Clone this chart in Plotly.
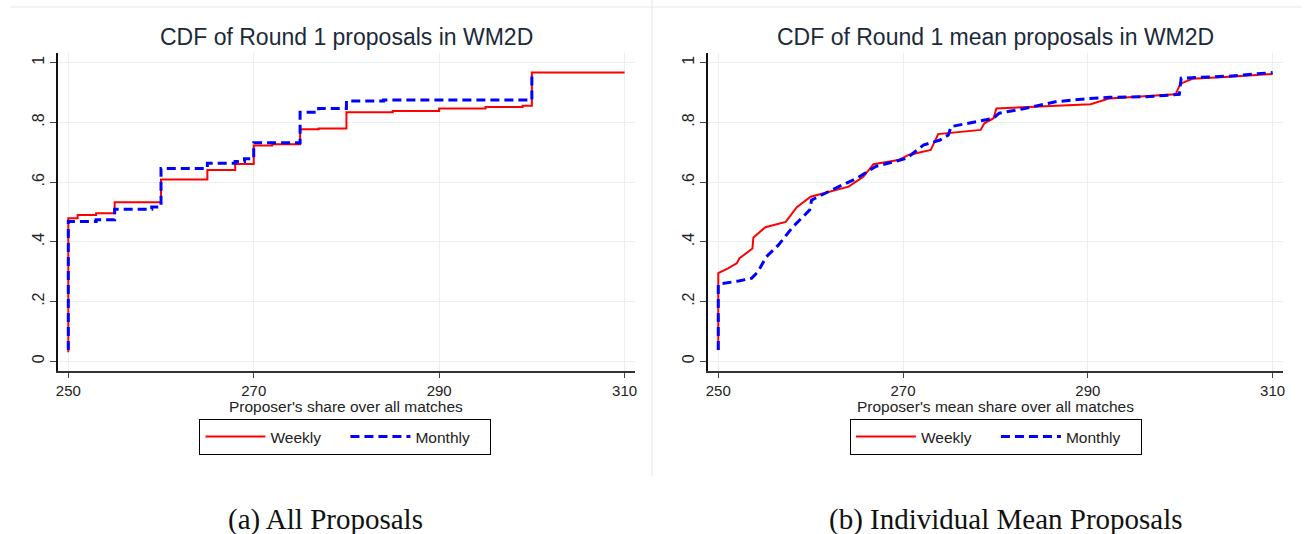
import plotly.graph_objects as go

# ---------------- data ----------------
# Panel (a): CDF of all Round 1 proposals (step points)
a_weekly_x = [250, 250, 251, 253, 255, 260, 265, 268, 270, 272, 275, 277, 280, 285, 290, 295, 299, 300, 310]
a_weekly_y = [0.030, 0.479, 0.490, 0.496, 0.533, 0.609, 0.641, 0.661, 0.723, 0.727, 0.777, 0.780,
              0.834, 0.838, 0.847, 0.852, 0.856, 0.967, 0.967]
a_monthly_x = [250, 250, 253, 255, 259, 260, 265, 268, 269, 270, 275, 277, 280, 284, 300]
a_monthly_y = [0.038, 0.468, 0.474, 0.509, 0.517, 0.646, 0.663, 0.669, 0.678, 0.732, 0.834, 0.847,
               0.872, 0.875, 0.967]

# Panel (b): CDF of individual mean proposals
b_weekly_x = [250, 250, 251.1, 252, 252.3, 253.4, 253.7, 253.8, 255.1, 257.3, 258.5, 260, 262.3, 264.1,
              265.7, 266.8, 269.5, 270.6, 273, 273.8, 278.4, 278.8, 279.8, 280.1, 282.9, 290.3, 292.3,
              299.5, 300, 301.3, 305.3, 310]
b_weekly_y = [0.038, 0.295, 0.312, 0.328, 0.345, 0.373, 0.378, 0.415, 0.449, 0.467, 0.516, 0.551, 0.570,
              0.585, 0.618, 0.660, 0.674, 0.691, 0.708, 0.761, 0.775, 0.797, 0.814, 0.847, 0.851, 0.861,
              0.880, 0.894, 0.929, 0.946, 0.953, 0.962]
b_monthly_x = [250, 250, 252.2, 253.6, 254.3, 255.2, 256.5, 258.1, 259.9, 260.1, 262.3, 265, 267, 270.4,
               272.2, 274, 274.9, 275.2, 279.8, 280.4, 282.9, 286.5, 290.1, 292.3, 296.3, 299.9, 300.1,
               305.3, 310]
b_monthly_y = [0.038, 0.258, 0.269, 0.278, 0.300, 0.350, 0.389, 0.451, 0.507, 0.540, 0.574, 0.613, 0.652,
               0.680, 0.724, 0.741, 0.758, 0.786, 0.814, 0.831, 0.845, 0.869, 0.880, 0.884, 0.886, 0.894,
               0.948, 0.955, 0.967]

x_ticks = [250, 270, 290, 310]
y_ticks = [0, 0.2, 0.4, 0.6, 0.8, 1]
y_tick_labels = ["0", ".2", ".4", ".6", ".8", "1"]

titles = ["CDF of Round 1 proposals in WM2D", "CDF of Round 1 mean proposals in WM2D"]
x_titles = ["Proposer's share over all matches", "Proposer's mean share over all matches"]
captions = ["(a) All Proposals", "(b) Individual Mean Proposals"]
series_names = ["Weekly", "Monthly"]

# ---------------- layout helpers ----------------
W, H = 1304, 534
def px(x):
    return x / W
def py(y):
    return (H - y) / H

RED = "#FF0000"
BLUE = "#0000FF"
SANS = "Liberation Sans, Arial, sans-serif"
TXT = "#222222"

fig = go.Figure()

panels = [
    dict(xa="x", ya="y", legend="legend", wx=a_weekly_x, wy=a_weekly_y, mx=a_monthly_x, my=a_monthly_y, shape="hv"),
    dict(xa="x2", ya="y2", legend="legend2", wx=b_weekly_x, wy=b_weekly_y, mx=b_monthly_x, my=b_monthly_y, shape="linear"),
]
for p in panels:
    fig.add_trace(go.Scatter(x=p["wx"], y=p["wy"], mode="lines", name=series_names[0],
                             line=dict(color=RED, width=2, shape=p["shape"]),
                             xaxis=p["xa"], yaxis=p["ya"], legend=p["legend"]))
    fig.add_trace(go.Scatter(x=p["mx"], y=p["my"], mode="lines", name=series_names[1],
                             line=dict(color=BLUE, width=3, dash="9px,5px", shape=p["shape"]),
                             xaxis=p["xa"], yaxis=p["ya"], legend=p["legend"]))

plot_top, plot_bottom = 53, 371
left_dom = [px(56), px(635)]
right_dom = [px(708), px(1285)]
ydom = [py(plot_bottom), py(plot_top)]

xaxis_common = dict(range=[248.87, 311.13], tickvals=x_ticks, showgrid=True, gridcolor="#E8F0F2",
                    gridwidth=1.2, zeroline=False, showline=True, linecolor="#333333", linewidth=1.5,
                    ticks="outside", ticklen=5, tickcolor="#444444", tickwidth=1.2,
                    tickfont=dict(family=SANS, size=15, color=TXT))
yaxis_common = dict(range=[-0.0325, 1.0325], tickvals=y_ticks, ticktext=y_tick_labels, tickangle=-90,
                    showgrid=True, gridcolor="#E8F0F2", gridwidth=1.2, zeroline=False, showline=True,
                    linecolor="#111111", linewidth=1.5, ticks="outside", ticklen=6, tickcolor="#444444",
                    tickwidth=1.2, tickfont=dict(family=SANS, size=16, color=TXT), domain=ydom)

legend_common = dict(orientation="h", xanchor="center", yanchor="top", y=py(419),
                     bordercolor="#000000", borderwidth=1, bgcolor="white",
                     font=dict(family=SANS, size=15.5, color=TXT), itemwidth=60,
                     entrywidth=70, entrywidthmode="pixels",
                     traceorder="normal")

annotations = []
centers = [345.5, 996.5]
for i in range(2):
    annotations.append(dict(text=titles[i], x=px(centers[i]), y=py(37), xref="paper", yref="paper",
                            showarrow=False, xanchor="center", yanchor="middle",
                            font=dict(family=SANS, size=23, color="#1B2A3A")))
    annotations.append(dict(text=x_titles[i], x=px(centers[i]), y=py(406), xref="paper", yref="paper",
                            showarrow=False, xanchor="center", yanchor="middle",
                            font=dict(family=SANS, size=15.5, color=TXT)))
cap_centers = [324.5, 1007]
for i in range(2):
    annotations.append(dict(text=captions[i], x=px(cap_centers[i]), y=py(519), xref="paper", yref="paper",
                            showarrow=False, xanchor="center", yanchor="middle",
                            font=dict(family="Liberation Serif, serif", size=29, color="#111111")))

shapes = [
    dict(type="line", xref="paper", yref="paper", x0=px(8), x1=px(1304), y0=py(7), y1=py(7),
         line=dict(color="#E6E6E6", width=1)),
    dict(type="line", xref="paper", yref="paper", x0=px(652), x1=px(652), y0=py(0), y1=py(476),
         line=dict(color="#E6E6E6", width=1)),
]

fig.update_layout(
    width=W, height=H, autosize=False,
    margin=dict(l=0, r=0, t=0, b=0, pad=0),
    paper_bgcolor="white", plot_bgcolor="white",
    xaxis=dict(domain=left_dom, anchor="y", **xaxis_common),
    yaxis=dict(anchor="x", **yaxis_common),
    xaxis2=dict(domain=right_dom, anchor="y2", **xaxis_common),
    yaxis2=dict(anchor="x2", **yaxis_common),
    legend=dict(x=px(344.5), **legend_common),
    legend2=dict(x=px(997), **legend_common),
    annotations=annotations,
    shapes=shapes,
    showlegend=True,
)

fig.write_html("out.html", config={"displayModeBar": False},
               post_script="document.body.style.margin='0';")
